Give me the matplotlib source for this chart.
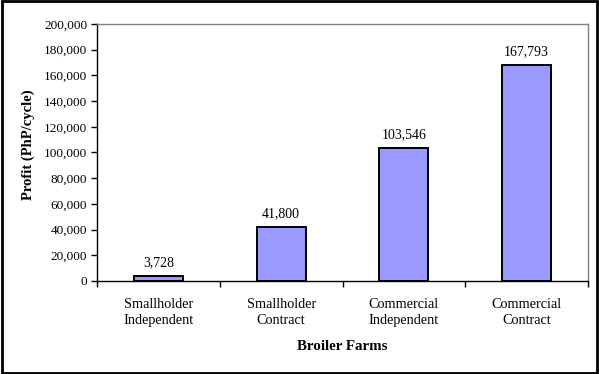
import matplotlib.pyplot as plt
import matplotlib.patches as patches

# dados
farms = ["Smallholder\nIndependent", "Smallholder\nContract",
         "Commercial\nIndependent", "Commercial\nContract"]
profit = [3728, 41800, 103546, 167793]
yticks = list(range(0, 200001, 20000))

plt.rcParams['font.family'] = ['Liberation Serif', 'DejaVu Serif']

fig = plt.figure(figsize=(5.99, 3.74), dpi=100)
ax = fig.add_axes([0.162, 0.2487, 0.8196, 0.6871])

pos = list(range(len(farms)))
ax.bar(pos, profit, width=0.4, color='#9999FF', edgecolor='black', linewidth=1.4, zorder=3)

for x, v in zip(pos, profit):
    ax.annotate(f"{v:,}", (x, v), xytext=(0, 5), textcoords='offset points',
                ha='center', va='bottom', fontsize=10)

ax.set_xlim(-0.5, len(farms) - 0.5)
ax.set_ylim(0, 200000)
ax.set_yticks(yticks)
ax.set_yticklabels([f"{t:,}" for t in yticks], fontsize=9.5)

# ticks nas divisas das categorias, rótulos no centro
ax.set_xticks([p + 0.5 for p in [-1] + pos])
ax.set_xticklabels([])
ax.set_xticks(pos, minor=True)
ax.set_xticklabels(farms, minor=True, fontsize=10.3, linespacing=1.35)
ax.tick_params(axis='x', which='major', direction='out', length=4, width=1)
ax.tick_params(axis='x', which='minor', length=0, pad=12)
ax.tick_params(axis='y', direction='out', length=4, width=1, pad=3)

for s in ['top', 'right']:
    ax.spines[s].set_color('#808080')
    ax.spines[s].set_linewidth(1)
for s in ['left', 'bottom']:
    ax.spines[s].set_color('black')
    ax.spines[s].set_linewidth(1)

ax.set_ylabel("Profit (PhP/cycle)", fontsize=10.5, fontweight='bold')
ax.yaxis.set_label_coords(-0.127, 0.53)
ax.set_xlabel("Broiler Farms", fontsize=10.8, fontweight='bold', labelpad=9)

# moldura externa
fig.patches.append(patches.Rectangle((0.003, 0.004), 0.994, 0.992, transform=fig.transFigure,
                                     fill=False, edgecolor='black', linewidth=2))

fig.savefig("out.png", dpi=100)
